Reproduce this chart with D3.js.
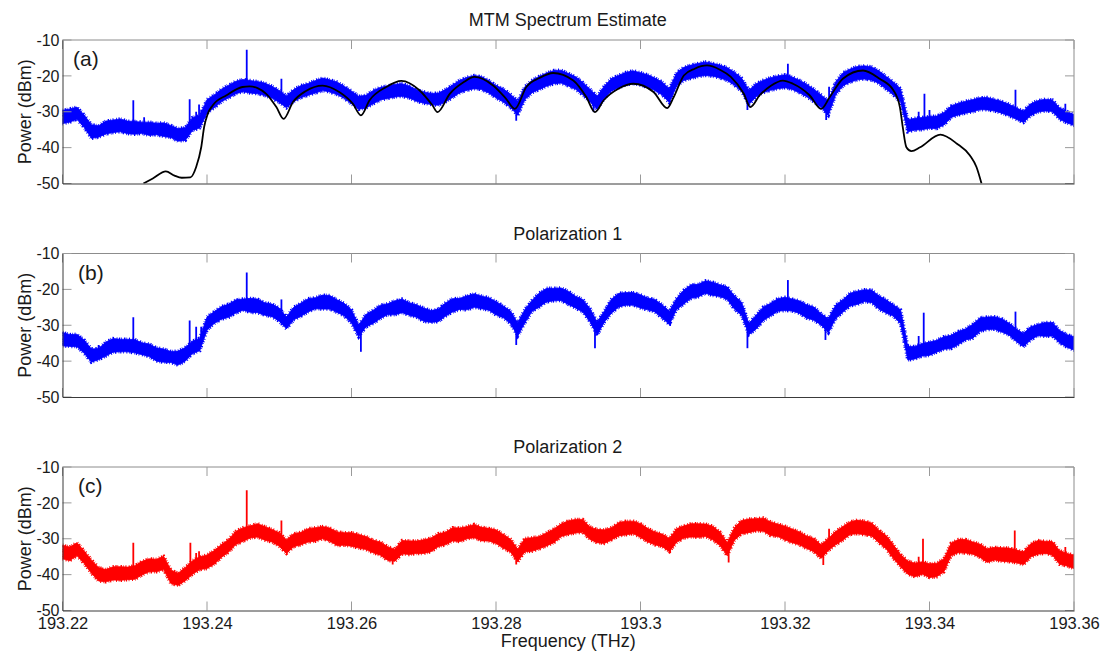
<html>
<head>
<meta charset="UTF-8">
<title>MTM Spectrum Estimate</title>
<style>
  body { margin: 0; background: #fff; }
  text { font-family: "Liberation Sans", Arial, sans-serif; fill: #1a1a1a; }
</style>
</head>
<body>
<script src="https://cdnjs.cloudflare.com/ajax/libs/d3/7.8.5/d3.min.js"></script>
<script>
// spectra sampled every 1 GHz from 193.22 THz: upper / lower edge of the noisy trace (dBm)
var fStart = 193.22, fStep = 0.001;

var mtmHi = [-29.6,-29.2,-28.7,-30.9,-33.6,-33.9,-32.6,-32.3,-32.0,-32.6,-32.7,-32.9,-32.9,-33.2,-33.1,-33.8,-34.7,-34.4,-31.6,-31.1,
  -26.6,-25.3,-23.7,-22.6,-21.5,-21.0,-21.3,-21.6,-22.0,-22.9,-24.1,-25.6,-23.8,-22.7,-22.1,-21.3,-20.6,-21.1,-21.7,-22.9,
  -24.2,-25.7,-25.4,-24.1,-23.2,-22.8,-22.3,-22.2,-22.8,-23.9,-24.4,-24.9,-24.8,-23.8,-22.5,-21.2,-20.4,-19.9,-20.2,-21.3,
  -22.6,-23.6,-25.1,-27.0,-23.0,-21.2,-20.1,-19.2,-18.5,-18.4,-19.3,-20.2,-21.8,-23.7,-25.7,-22.8,-20.7,-19.8,-19.0,-18.6,
  -19.1,-19.7,-20.6,-21.7,-23.6,-19.1,-17.6,-17.0,-16.5,-16.1,-16.5,-17.0,-17.7,-19.0,-20.6,-24.0,-22.2,-21.2,-20.5,-20.0,
  -19.7,-20.3,-21.2,-22.3,-23.7,-25.3,-27.0,-21.7,-19.2,-18.1,-17.4,-17.2,-17.5,-18.6,-20.2,-21.7,-23.6,-32.2,-31.8,-31.6,
  -31.3,-31.2,-30.2,-28.4,-27.6,-27.1,-26.6,-26.1,-26.0,-26.6,-27.1,-27.9,-28.9,-29.8,-27.8,-26.9,-26.5,-26.7,-28.9,-29.9,-30.8];
var mtmLo = [-33.3,-32.9,-32.1,-34.4,-37.4,-37.1,-36.2,-35.8,-35.6,-36.1,-36.3,-36.0,-36.6,-36.4,-36.9,-37.2,-38.2,-38.0,-35.2,-34.5,
  -30.4,-28.9,-27.2,-26.1,-25.0,-24.4,-24.8,-25.0,-25.5,-26.2,-27.4,-28.9,-27.2,-26.1,-25.4,-24.8,-24.1,-24.5,-25.2,-26.3,
  -27.8,-29.3,-29.0,-27.8,-26.7,-26.3,-25.9,-25.7,-26.2,-27.1,-27.6,-28.0,-28.2,-27.3,-26.0,-24.7,-24.0,-23.6,-23.8,-24.8,
  -26.1,-27.3,-28.8,-31.0,-26.6,-24.7,-23.8,-22.9,-22.2,-22.0,-22.8,-23.7,-25.3,-27.2,-29.2,-26.3,-24.2,-23.3,-22.5,-22.1,
  -22.6,-23.2,-24.1,-25.3,-27.5,-22.8,-21.3,-20.7,-20.2,-19.9,-20.1,-20.6,-21.3,-22.6,-24.3,-28.0,-25.8,-24.7,-24.0,-23.6,
  -23.3,-23.8,-24.7,-25.8,-27.2,-28.8,-31.0,-25.3,-22.8,-21.8,-21.1,-20.9,-21.2,-22.1,-23.7,-25.3,-27.3,-35.6,-35.1,-35.0,
  -34.6,-34.7,-33.7,-31.6,-30.9,-30.4,-30.0,-29.4,-29.5,-29.8,-30.4,-31.1,-32.1,-33.0,-31.1,-30.1,-29.8,-29.9,-32.1,-33.1,-33.8];

var pol1Hi = [-32.0,-32.6,-32.5,-34.1,-36.6,-36.5,-34.7,-33.7,-33.9,-33.9,-34.0,-34.9,-35.2,-36.3,-36.6,-37.3,-37.2,-36.2,-34.4,-33.6,
  -27.7,-26.2,-24.8,-24.1,-22.9,-22.7,-22.5,-22.7,-23.7,-24.1,-25.2,-27.7,-25.0,-23.8,-22.6,-22.3,-21.6,-21.7,-22.9,-23.9,
  -25.7,-29.9,-27.0,-25.8,-24.4,-24.0,-23.2,-22.7,-23.7,-24.3,-25.2,-25.9,-25.5,-23.8,-22.6,-22.5,-21.8,-21.2,-21.9,-22.3,
  -23.4,-24.6,-26.0,-29.3,-25.6,-23.0,-21.0,-19.7,-19.7,-19.6,-20.5,-21.9,-22.8,-25.3,-29.1,-26.0,-22.7,-21.1,-20.9,-20.9,
  -21.5,-22.4,-22.8,-24.3,-26.1,-22.5,-20.2,-18.7,-18.6,-17.6,-18.0,-18.7,-19.3,-21.8,-23.6,-29.5,-27.2,-24.9,-23.9,-22.6,
  -22.2,-22.7,-23.2,-24.3,-24.9,-26.8,-28.2,-24.4,-22.9,-21.1,-20.5,-20.1,-20.2,-21.8,-22.9,-24.3,-25.7,-35.9,-35.9,-35.1,
  -34.7,-34.2,-33.2,-32.8,-31.7,-31.0,-29.7,-27.9,-27.7,-27.6,-28.2,-29.4,-31.0,-32.3,-30.4,-29.8,-29.2,-29.2,-31.4,-32.6,-33.2];
var pol1Lo = [-35.7,-35.9,-36.0,-37.8,-40.3,-39.6,-38.6,-37.5,-37.4,-37.4,-37.7,-38.2,-38.7,-40.0,-40.3,-40.4,-41.1,-40.0,-37.9,-37.1,
  -31.4,-29.5,-28.3,-27.8,-26.6,-25.8,-26.4,-26.5,-27.2,-27.6,-28.9,-31.0,-28.5,-27.5,-26.3,-25.4,-25.5,-25.5,-26.4,-27.4,
  -29.4,-33.2,-30.5,-29.5,-28.1,-27.1,-27.1,-26.5,-27.2,-27.8,-28.9,-29.2,-29.0,-27.5,-26.3,-25.6,-25.7,-25.0,-25.4,-25.8,
  -27.1,-27.9,-29.5,-33.0,-29.3,-26.1,-24.9,-23.5,-23.2,-23.1,-24.2,-25.2,-26.3,-29.0,-32.8,-29.1,-26.6,-24.9,-24.4,-24.4,
  -25.2,-25.7,-26.3,-28.0,-29.8,-25.6,-24.1,-22.5,-22.1,-21.1,-21.7,-22.0,-22.8,-25.5,-27.3,-32.6,-31.1,-28.7,-27.4,-26.1,
  -25.9,-26.0,-26.7,-28.0,-28.6,-29.9,-32.1,-28.2,-26.4,-24.6,-24.2,-23.4,-23.7,-25.5,-26.6,-27.4,-29.6,-39.7,-39.4,-38.6,
  -38.4,-37.5,-36.7,-36.5,-35.4,-34.1,-33.6,-31.7,-31.2,-31.1,-31.9,-32.7,-34.5,-36.0,-34.1,-32.9,-33.1,-33.0,-34.9,-36.1,-36.9];

var pol2Hi = [-31.8,-32.3,-31.1,-33.4,-35.9,-38.0,-38.6,-37.8,-37.8,-37.9,-37.5,-36.3,-35.6,-35.7,-34.9,-38.7,-39.6,-38.0,-36.1,-35.1,
  -34.5,-33.3,-31.6,-30.2,-27.9,-26.9,-26.4,-25.8,-26.6,-27.4,-28.3,-30.3,-28.6,-28.2,-27.2,-26.9,-26.6,-27.0,-28.1,-28.3,
  -28.3,-28.8,-29.4,-30.4,-30.9,-32.2,-32.9,-30.5,-30.6,-30.6,-30.3,-29.8,-28.6,-28.2,-26.9,-27.0,-26.6,-26.0,-26.8,-27.1,
  -27.5,-28.8,-30.1,-32.9,-29.9,-29.7,-29.4,-28.3,-27.3,-25.9,-25.0,-24.6,-24.6,-26.7,-27.4,-27.5,-26.9,-25.5,-25.1,-25.1,
  -25.8,-27.1,-28.1,-28.7,-29.9,-27.2,-26.4,-25.8,-25.8,-25.9,-26.5,-28.1,-31.1,-26.9,-24.9,-24.5,-24.4,-24.2,-25.3,-25.9,
  -26.5,-27.3,-28.1,-29.2,-29.9,-31.7,-29.9,-28.0,-26.6,-25.3,-24.8,-25.1,-25.6,-27.6,-29.1,-31.7,-34.4,-36.2,-36.8,-36.4,
  -37.0,-36.8,-35.6,-31.2,-30.2,-30.2,-30.9,-31.5,-32.8,-32.4,-32.5,-32.6,-33.1,-33.7,-31.4,-30.5,-30.7,-30.8,-33.3,-34.1,-34.5];
var pol2Lo = [-35.6,-36.1,-34.7,-36.9,-39.6,-41.8,-42.0,-41.5,-41.6,-41.4,-41.3,-40.1,-39.2,-39.2,-38.6,-42.5,-43.0,-41.7,-39.9,-38.6,
  -38.3,-37.1,-35.2,-33.7,-31.6,-30.7,-29.8,-29.5,-30.4,-30.9,-32.1,-34.1,-32.2,-31.7,-30.9,-30.7,-30.0,-30.7,-31.9,-31.8,
  -32.1,-32.6,-33.0,-33.9,-34.6,-36.0,-36.3,-34.2,-34.4,-34.1,-34.1,-33.6,-32.2,-31.7,-30.6,-30.8,-30.0,-29.7,-30.6,-30.6,
  -31.3,-32.6,-33.7,-36.4,-33.6,-33.5,-32.8,-32.0,-31.1,-29.4,-28.8,-28.4,-28.2,-30.2,-31.1,-31.3,-30.3,-29.2,-28.9,-28.6,
  -29.6,-30.9,-31.7,-32.2,-33.6,-31.0,-29.8,-29.5,-29.6,-29.4,-30.3,-31.9,-34.7,-30.4,-28.6,-28.3,-27.8,-27.9,-29.1,-29.4,
  -30.3,-31.1,-31.7,-32.7,-33.6,-35.5,-33.3,-31.7,-30.4,-28.8,-28.6,-28.9,-29.2,-31.1,-32.8,-35.5,-37.8,-39.9,-40.6,-39.9,
  -40.8,-40.6,-39.2,-34.7,-33.9,-34.0,-34.3,-35.2,-36.6,-35.9,-36.3,-36.4,-36.7,-37.2,-35.1,-34.3,-34.1,-34.5,-37.1,-37.6,-38.3];

// narrow tones and notches: [frequency, from dBm, to dBm]
var mtmSpikes = [[193.2298,-33,-26.8],[193.2313,-33.5,-31.5],[193.2376,-33,-26.5],[193.2385,-32,-30],[193.2389,-32,-28],
  [193.2392,-32,-29.5],[193.2455,-22,-12.7],[193.2503,-25,-20.8],[193.3204,-20,-16.6],[193.3261,-26,-23],
  [193.3385,-32,-30],[193.3393,-32,-25],[193.34,-32,-29.5],[193.3519,-29,-23.9],[193.3588,-30,-27.8],
  [193.2828,-29,-32.5],[193.2935,-27.5,-30],[193.3148,-26,-29.5],[193.3257,-28,-32.3]];
var pol1Spikes = [[193.225,-38,-35.5],[193.2298,-35,-27.8],[193.2376,-37,-28.7],[193.2385,-35,-30.4],[193.2392,-35,-30.4],
  [193.2455,-24,-15.3],[193.2503,-27,-22.8],[193.3204,-24,-17.4],[193.3385,-36,-33],[193.3392,-36,-26.5],
  [193.3519,-32,-26.2],[193.2613,-30,-37.4],[193.2828,-30,-35.5],[193.2937,-30,-36.4],[193.3041,-27,-30.2],
  [193.3148,-30,-36.4],[193.3256,-29,-34.1],[193.3528,-33,-35]];
var pol2Spikes = [[193.2298,-39,-31.1],[193.2377,-39,-31.1],[193.2385,-38,-34],[193.2389,-38,-33.5],[193.2455,-28,-16.5],
  [193.2503,-30,-24.9],[193.3261,-31,-27.2],[193.3385,-38,-35],[193.3391,-38,-30],[193.3518,-34,-27.7],
  [193.3588,-35,-32.3],[193.2657,-34,-37.2],[193.2828,-33,-37.2],[193.3041,-31,-34],[193.3122,-32,-36.6],
  [193.3253,-33,-37.3],[193.34,-39,-41]];

// smooth MTM estimate (black), [frequency, dBm]
var mtmFit = [[193.2312,-50],[193.2325,-48.6],[193.2343,-46.6],[193.2355,-47.8],[193.2365,-48.4],[193.2377,-48.3],
  [193.2385,-45.4],[193.2392,-39.9],[193.2396,-34.3],[193.2401,-30.6],[193.2408,-28.2],[193.2427,-25.4],[193.2449,-23.1],
  [193.2459,-22.9],[193.247,-23.4],[193.2482,-25.0],[193.2496,-28.7],[193.2506,-32.0],[193.2519,-27.3],[193.2537,-24.2],
  [193.256,-22.7],[193.2583,-24.5],[193.2602,-27.8],[193.2613,-31.0],[193.2625,-26.8],[193.2648,-23.1],[193.2669,-21.4],
  [193.2694,-24.0],[193.2712,-28.2],[193.2719,-30.1],[193.2736,-25.0],[193.2755,-21.8],[193.277,-20.3],[193.2796,-22.7],
  [193.2814,-26.4],[193.2826,-29.2],[193.2842,-23.1],[193.286,-20.6],[193.2879,-19.2],[193.2907,-21.3],[193.2925,-25.9],
  [193.2937,-30.1],[193.2949,-26.8],[193.297,-23.5],[193.299,-22.2],[193.3018,-24.5],[193.3037,-29.0],[193.3046,-25.9],
  [193.306,-19.9],[193.3075,-18.0],[193.3092,-17.1],[193.311,-18.3],[193.3125,-20.3],[193.3143,-25.0],[193.3152,-28.7],
  [193.3165,-25.4],[193.318,-22.8],[193.3197,-21.3],[193.3211,-22.2],[193.3234,-25.4],[193.325,-29.2],[193.3262,-25.9],
  [193.328,-20.8],[193.3308,-18.5],[193.3331,-20.8],[193.335,-24.0],[193.3359,-28.7],[193.3363,-34.3],[193.3368,-39.9],
  [193.3375,-41.0],[193.3387,-39.9],[193.3415,-36.4],[193.3438,-38.9],[193.3456,-42.2],[193.3465,-45.4],[193.3472,-50]];

var freqTicks = [193.22, 193.24, 193.26, 193.28, 193.3, 193.32, 193.34, 193.36];
var powerTicks = [-10, -20, -30, -40, -50];

var panels = [
  {title: "MTM Spectrum Estimate", tag: "(a)", tagX: 73, top: 40, hi: mtmHi, lo: mtmLo, spikes: mtmSpikes, color: "#0000ff", fit: mtmFit},
  {title: "Polarization 1", tag: "(b)", tagX: 78, top: 253.5, hi: pol1Hi, lo: pol1Lo, spikes: pol1Spikes, color: "#0000ff"},
  {title: "Polarization 2", tag: "(c)", tagX: 78, top: 467, hi: pol2Hi, lo: pol2Lo, spikes: pol2Spikes, color: "#ff0000"}
];

var width = 1113, height = 653,
    left = 62.5, right = 1074, ph = 143.5;

var svg = d3.select("body").append("svg")
  .attr("width", width)
  .attr("height", height);

var x = d3.scaleLinear().domain([193.22, 193.36]).range([left, right]);

panels.forEach(function(p, k) {
  var y = d3.scaleLinear().domain([-50, -10]).range([p.top + ph, p.top]);
  var g = svg.append("g");

  g.append("clipPath").attr("id", "clip" + k)
    .append("rect").attr("x", left).attr("y", p.top).attr("width", right - left).attr("height", ph);

  var plot = g.append("g").attr("clip-path", "url(#clip" + k + ")");

  var band = d3.area()
    .x(function(d, i) { return x(fStart + i * fStep); })
    .y0(function(d, i) { return y(p.lo[i]); })
    .y1(function(d) { return y(d); });

  plot.append("path")
    .datum(p.hi)
    .attr("d", band)
    .attr("fill", p.color)
    .attr("stroke", p.color)
    .attr("stroke-width", 0.8);

  // ragged outline so the band edge reads as noise
  plot.append("path")
    .datum(p.hi)
    .attr("d", band)
    .attr("fill", "none")
    .attr("stroke", p.color)
    .attr("stroke-width", 3.4)
    .attr("stroke-dasharray", "0.8 1.6 1.2 0.9 0.7 2.3 1.4 1.1 0.6 1.8 1 2.6");

  plot.selectAll(".spike")
    .data(p.spikes)
    .enter().append("line")
    .attr("x1", function(d) { return x(d[0]); })
    .attr("x2", function(d) { return x(d[0]); })
    .attr("y1", function(d) { return y(d[1]); })
    .attr("y2", function(d) { return y(d[2]); })
    .attr("stroke", p.color)
    .attr("stroke-width", 1.8);

  if (p.fit) {
    plot.append("path")
      .datum(p.fit)
      .attr("d", d3.line()
        .x(function(d) { return x(d[0]); })
        .y(function(d) { return y(d[1]); })
        .curve(d3.curveMonotoneX))
      .attr("fill", "none")
      .attr("stroke", "#000")
      .attr("stroke-width", 1.8);
  }

  // box: light top/right, dark left/bottom
  g.append("line").attr("x1", left).attr("x2", right).attr("y1", p.top).attr("y2", p.top).attr("stroke", "#8c8c8c");
  g.append("line").attr("x1", right).attr("x2", right).attr("y1", p.top).attr("y2", p.top + ph).attr("stroke", "#8c8c8c");

  // inward ticks on all four sides
  g.selectAll(".xt").data(freqTicks).enter().append("path")
    .attr("d", function(d) {
      var px = x(d);
      return "M" + px + "," + (p.top + ph) + "v-9M" + px + "," + p.top + "v9";
    })
    .attr("stroke", "#9a9a9a");
  g.selectAll(".yt").data(powerTicks).enter().append("path")
    .attr("d", function(d) {
      var py = y(d);
      return "M" + left + "," + py + "h9M" + right + "," + py + "h-9";
    })
    .attr("stroke", "#9a9a9a");

  var yAxis = g.append("g")
    .attr("transform", "translate(" + left + ",0)")
    .call(d3.axisLeft(y).tickValues(powerTicks).tickSize(0).tickPadding(3)
      .tickFormat(function(d) { return String(d); }));
  yAxis.select(".domain").attr("stroke", "#3a3a3a");
  yAxis.selectAll("text").attr("fill", "#1a1a1a").attr("font-size", 16)
    .attr("font-family", "Liberation Sans, Arial, sans-serif");

  var xAxis = g.append("g")
    .attr("transform", "translate(0," + (p.top + ph) + ")")
    .call(d3.axisBottom(x).tickValues(k === 2 ? freqTicks : []).tickSize(0).tickPadding(7)
      .tickFormat(function(d) { return String(+d.toFixed(2)); }));
  xAxis.select(".domain").attr("stroke", "#3a3a3a");
  xAxis.selectAll("text").attr("fill", "#1a1a1a").attr("font-size", 16.5)
    .attr("font-family", "Liberation Sans, Arial, sans-serif");

  g.append("text")
    .attr("x", (left + right) / 2 - 0.5)
    .attr("y", p.top - 14)
    .attr("text-anchor", "middle")
    .style("font-size", "18px")
    .text(p.title);

  g.append("text")
    .attr("x", p.tagX)
    .attr("y", p.top + 26)
    .style("font-size", "21px")
    .text(p.tag);

  g.append("text")
    .attr("transform", "translate(31," + (p.top + ph / 2) + ") rotate(-90)")
    .attr("text-anchor", "middle")
    .style("font-size", "18px")
    .text("Power (dBm)");
});

svg.append("text")
  .attr("x", (left + right) / 2)
  .attr("y", 647)
  .attr("text-anchor", "middle")
  .style("font-size", "18px")
  .text("Frequency (THz)");
</script>
</body>
</html>
